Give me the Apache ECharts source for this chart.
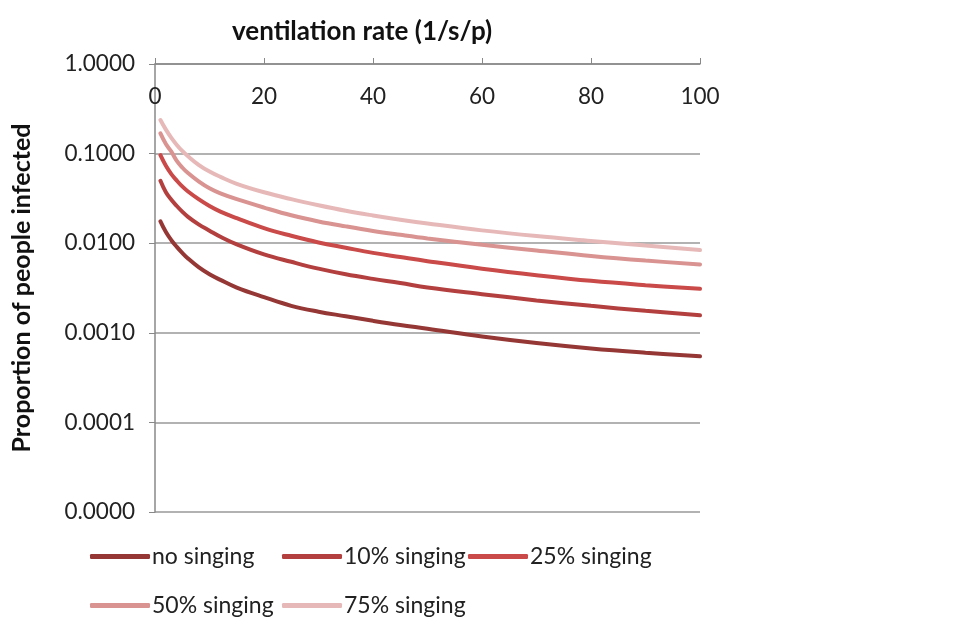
<!DOCTYPE html>
<html>
<head>
<meta charset="utf-8">
<script src="https://cdn.jsdelivr.net/npm/echarts@6/dist/echarts.min.js"></script>
<style>html,body{margin:0;padding:0;background:#fff}#c{width:960px;height:640px}</style>
</head>
<body>
<div id="c"></div>
<script>
var ventilation = [1, 2, 3, 4, 5, 6, 8, 10, 12, 15, 20, 25, 30, 35, 40, 45, 50, 60, 70, 80, 90, 100];
var noSinging   = [0.0175, 0.0133, 0.0108, 0.0091, 0.0078, 0.0068, 0.0054, 0.0045, 0.0039, 0.0032, 0.0025, 0.0020, 0.00172, 0.00153, 0.00136, 0.00122, 0.00111, 0.00091, 0.00077, 0.00067, 0.00060, 0.000546];
var sing10      = [0.0497, 0.037, 0.0305, 0.026, 0.0225, 0.0198, 0.0162, 0.0138, 0.0118, 0.0097, 0.0075, 0.0062, 0.0052, 0.0045, 0.0040, 0.0036, 0.0032, 0.0027, 0.0023, 0.0020, 0.00176, 0.00157];
var sing25      = [0.096, 0.073, 0.059, 0.050, 0.043, 0.038, 0.031, 0.026, 0.0225, 0.0190, 0.0147, 0.0121, 0.0102, 0.0089, 0.0078, 0.0070, 0.0063, 0.0052, 0.0044, 0.0038, 0.0034, 0.0031];
var sing50      = [0.168, 0.128, 0.105, 0.083, 0.070, 0.061, 0.049, 0.041, 0.036, 0.031, 0.0250, 0.0205, 0.0175, 0.0154, 0.0137, 0.0124, 0.0113, 0.0096, 0.0083, 0.0072, 0.0064, 0.0058];
var sing75      = [0.237, 0.185, 0.150, 0.125, 0.107, 0.094, 0.075, 0.063, 0.055, 0.046, 0.037, 0.031, 0.0265, 0.0230, 0.0204, 0.0183, 0.0166, 0.0139, 0.0120, 0.0106, 0.0094, 0.0084];
var seriesNames = ['no singing', '10% singing', '25% singing', '50% singing', '75% singing'];
var xTicks = [0, 20, 40, 60, 80, 100];
var yTicks = [0.00001, 0.0001, 0.001, 0.01, 0.1, 1];

var colors = ['#953735', '#B3403F', '#C94A48', '#D99391', '#E6B9B8'];
var allValues = [noSinging, sing10, sing25, sing50, sing75];
var FONT = 'Lato, "Open Sans", sans-serif';

function pairs(vals) { return ventilation.map(function (x, i) { return [x, vals[i]]; }); }

var series = allValues.map(function (vals, i) {
  return {
    name: seriesNames[i], type: 'line', smooth: 0.4, symbol: 'none',
    data: pairs(vals), z: 10 - i,
    lineStyle: { width: 4, color: colors[i], cap: 'round' },
    itemStyle: { color: colors[i] }
  };
});

var legendPos = [[90, 545], [282, 545], [468, 545], [90, 594], [282, 594]];
var legends = seriesNames.map(function (n, i) {
  return {
    data: [n], left: legendPos[i][0], top: legendPos[i][1], padding: 0,
    icon: 'roundRect', itemWidth: 60, itemHeight: 5,
    textStyle: { fontFamily: FONT, fontSize: 23, color: '#222', padding: [0, 0, 0, -3] },
    selectedMode: false
  };
});

var chart = echarts.init(document.getElementById('c'), null, { renderer: 'canvas' });
chart.setOption({
  animation: false,
  backgroundColor: '#fff',
  color: colors,
  title: {
    text: 'ventilation rate (1/s/p)', left: 362, top: 19, textAlign: 'center', padding: 0,
    textStyle: { fontFamily: FONT, fontSize: 26, fontWeight: 'bold', color: '#111' }
  },
  legend: legends,
  grid: { left: 155, right: 260, top: 64, bottom: 128, containLabel: false, outerBoundsMode: 'none' },
  xAxis: {
    type: 'value', position: 'top', min: xTicks[0], max: xTicks[xTicks.length - 1], interval: 20,
    axisLine: { show: true, lineStyle: { color: '#888', width: 1.5 } },
    axisTick: { show: true, inside: false, length: 6, lineStyle: { color: '#888' } },
    axisLabel: { inside: true, margin: 21, fontFamily: FONT, fontSize: 22.5, color: '#222' },
    splitLine: { show: false }
  },
  yAxis: {
    type: 'log', logBase: 10, min: yTicks[0], max: yTicks[yTicks.length - 1],
    name: 'Proportion of people infected', nameLocation: 'middle', nameGap: 121,
    nameMoveOverlap: false,
    nameTextStyle: { fontFamily: FONT, fontSize: 25, fontWeight: 'bold', color: '#111' },
    axisLine: { show: true, lineStyle: { color: '#888', width: 1.5 } },
    axisTick: { show: true, inside: false, length: 6, lineStyle: { color: '#888' } },
    axisLabel: { margin: 20, fontFamily: FONT, fontSize: 22.5, color: '#222',
      formatter: function (v) { return Number(v).toFixed(4); } },
    splitLine: { show: true, lineStyle: { color: '#999', width: 1.5 } }
  },
  series: series
});
</script>
</body>
</html>
